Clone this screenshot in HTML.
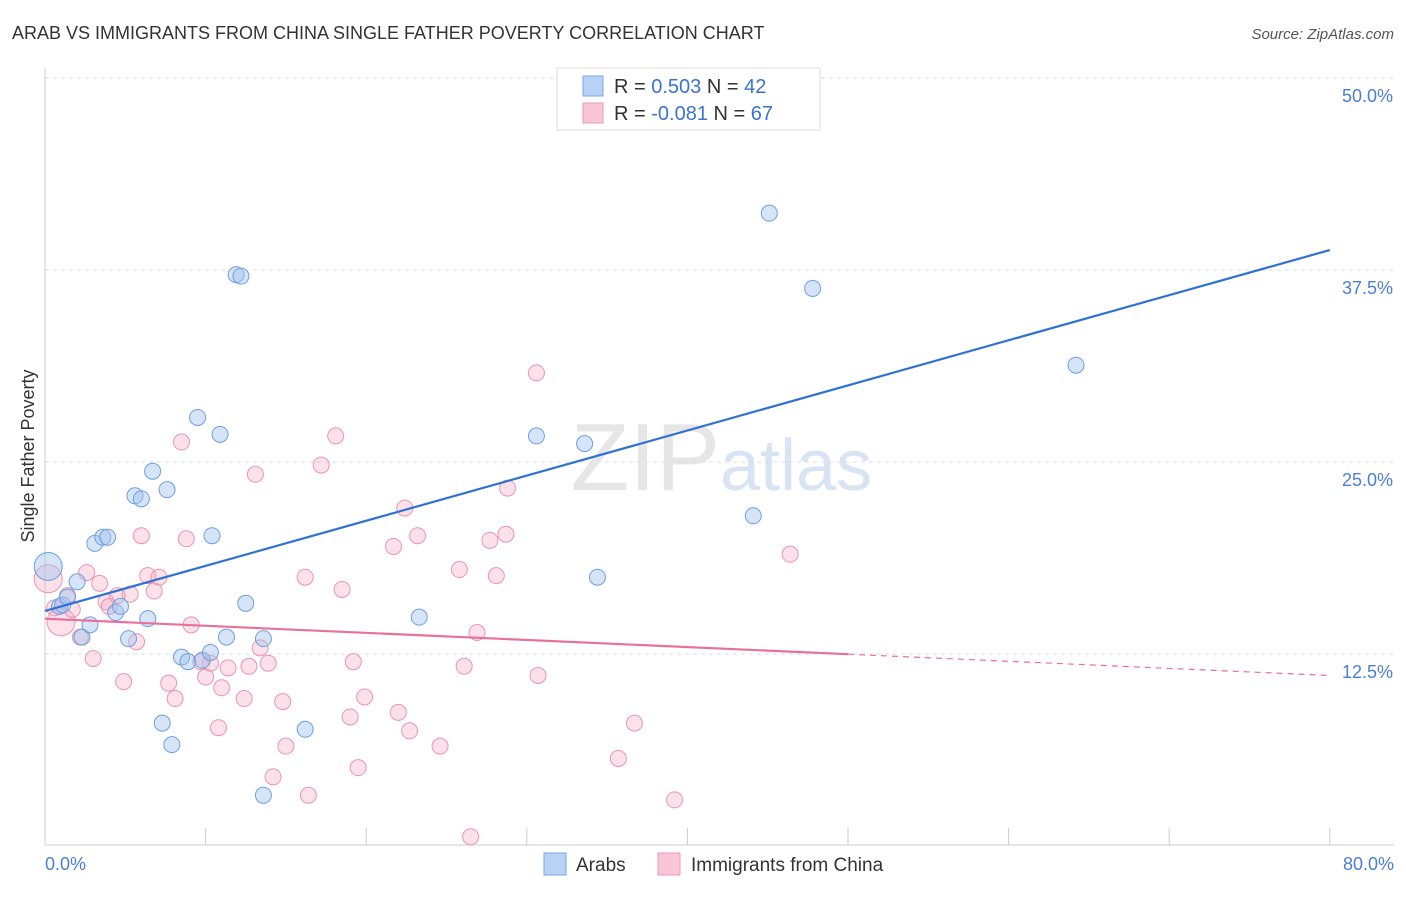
<!DOCTYPE html>
<html><head><meta charset="utf-8"><style>
body{margin:0;background:#fff;font-family:"Liberation Sans",sans-serif}
svg text{font-family:"Liberation Sans",sans-serif}
</style></head><body>
<svg width="1406" height="892" xmlns="http://www.w3.org/2000/svg">
<text x="12" y="39" font-size="18" fill="#333">ARAB VS IMMIGRANTS FROM CHINA SINGLE FATHER POVERTY CORRELATION CHART</text>
<text x="1394" y="39" font-size="15" fill="#555" font-style="italic" text-anchor="end">Source: ZipAtlas.com</text>
<text x="720" y="490" font-size="96" fill="#e6e6e6" text-anchor="end" font-family="Liberation Serif">ZIP</text>
<text x="720" y="490" font-size="72" fill="#d8e4f4">atlas</text>
<g id="grid"></g>
<g id="axes"></g>
<g id="pink"></g>
<g id="blue"></g>
<g id="lines"></g>
<text transform="translate(34,456) rotate(-90)" font-size="18" fill="#333" text-anchor="middle">Single Father Poverty</text>
<text x="45" y="870" font-size="18" fill="#4a7fd6">0.0%</text>
<text x="1394" y="870" font-size="18" fill="#4a7fd6" text-anchor="end">80.0%</text>
<g>
<rect x="557" y="68" width="263" height="62" fill="#fff" stroke="#ddd"/>
<rect x="583" y="76" width="20" height="20" fill="#b8d2f5" stroke="#7aa6e6"/>
<rect x="583" y="103" width="20" height="20" fill="#f9c6d6" stroke="#ec9ab5"/>
<text x="614" y="93" font-size="20" fill="#333">R =  <tspan fill="#3a73d4">0.503</tspan>   N = <tspan fill="#3a73d4">42</tspan></text>
<text x="614" y="120" font-size="20" fill="#333">R = <tspan fill="#3a73d4">-0.081</tspan>   N = <tspan fill="#3a73d4">67</tspan></text>
</g>
<g>
<rect x="544" y="853" width="22" height="22" fill="#b8d2f5" stroke="#7aa6e6"/>
<text x="576" y="871" font-size="19" fill="#333">Arabs</text>
<rect x="658" y="853" width="22" height="22" fill="#f9c6d6" stroke="#ec9ab5"/>
<text x="691" y="871" font-size="19" fill="#333">Immigrants from China</text>
</g>
</svg>
<script>
const yTicks=[12.5,25,37.5,50];
const yTickLabels=["12.5%","25.0%","37.5%","50.0%"];
const xTicks=[0,10,20,30,40,50,60,70,80];
const arabX=[0.2,0.9,1.1,1.4,2.0,2.3,2.8,3.1,3.6,3.9,4.4,4.7,5.2,5.6,6.0,6.4,6.7,7.3,7.6,7.9,8.5,8.9,9.5,9.8,10.3,10.4,10.9,11.3,11.9,12.2,12.5,13.6,13.6,16.2,23.3,30.6,33.6,34.4,44.1,45.1,47.8,64.2];
const arabY=[18.2,15.6,15.7,16.2,17.2,13.6,14.4,19.7,20.1,20.1,15.2,15.6,13.5,22.8,22.6,14.8,24.4,8.0,23.2,6.6,12.3,12.0,27.9,12.1,12.6,20.2,26.8,13.6,37.2,37.1,15.8,13.5,3.3,7.6,14.9,26.7,26.2,17.5,21.5,41.2,36.3,31.3];
const chinaX=[0.2,0.6,1.0,1.4,1.7,2.2,2.6,3.0,3.4,3.8,4.0,4.5,4.9,5.3,5.7,6.0,6.4,6.8,7.1,7.7,8.1,8.5,8.8,9.1,9.7,10.0,10.3,10.8,11.0,11.4,12.4,12.7,13.1,13.4,13.9,14.2,14.8,15.0,16.2,16.4,17.2,18.1,18.5,19.0,19.2,19.5,19.9,21.7,22.0,22.4,22.7,23.2,24.6,25.8,26.1,26.5,26.9,27.7,28.1,28.7,28.8,30.6,30.7,35.7,36.7,39.2,46.4];
const chinaY=[17.4,15.5,14.6,16.3,15.4,13.6,17.8,12.2,17.1,15.9,15.6,16.3,10.7,16.4,13.3,20.2,17.6,16.6,17.5,10.6,9.6,26.3,20.0,14.4,12.0,11.0,11.9,7.7,10.3,11.6,9.6,11.7,24.2,12.9,11.9,4.5,9.4,6.5,17.5,3.3,24.8,26.7,16.7,8.4,12.0,5.1,9.7,19.5,8.7,22.0,7.5,20.2,6.5,18.0,11.7,0.6,13.9,19.9,17.6,20.3,23.3,30.8,11.1,5.7,8.0,3.0,19.0];
const arabLarge=[0], chinaLarge=[0,2];
const arabTrend=[15.3,38.8], chinaTrend=[14.8,11.1];
const NS="http://www.w3.org/2000/svg";
const X=v=>45+v*16.06, Y=v=>846-v*15.36;
function mk(t,a,p){const e=document.createElementNS(NS,t);for(const k in a)e.setAttribute(k,a[k]);p.appendChild(e);return e;}
const grid=document.getElementById('grid'),axes=document.getElementById('axes');
yTicks.forEach((t,i)=>{
 const l=mk('line',{x1:45,x2:1394,y1:Y(t),y2:Y(t),stroke:'#ddd','stroke-dasharray':'4,4'},grid);
 
 
 const tx=mk('text',{x:1393,y:Y(t)+24,'font-size':18,fill:'#4a7fd6','text-anchor':'end'},grid);
 tx.textContent=yTickLabels[i];
 
 
});
let a=mk('line',{x1:45,x2:45,y1:68,y2:845,stroke:'#ccc'},axes);


a=mk('line',{x1:45,x2:1394,y1:845,y2:845,stroke:'#ccc'},axes);


xTicks.forEach(t=>{const e=mk('line',{x1:X(t),x2:X(t),y1:828,y2:845,stroke:'#ccc'},axes);
 
 });
function pts(xs,ys,big,g,fill,stroke,name){xs.forEach((v,i)=>{
 const c=mk('circle',{cx:X(v),cy:Y(ys[i]),r:big.includes(i)?14:8,fill:fill,stroke:stroke,'stroke-width':1},g);
 
 });}
pts(chinaX,chinaY,chinaLarge,document.getElementById('pink'),'rgba(246,170,196,0.35)','#e995b2','china-point');
pts(arabX,arabY,arabLarge,document.getElementById('blue'),'rgba(164,196,240,0.45)','#6f9fe0','arab-point');
const lg=document.getElementById('lines');
let l=mk('line',{x1:X(0),y1:Y(arabTrend[0]),x2:X(80),y2:Y(arabTrend[1]),stroke:'#2f72d6','stroke-width':2.2},lg);


const cm=v=>chinaTrend[0]+(chinaTrend[1]-chinaTrend[0])*v/80;
l=mk('line',{x1:X(0),y1:Y(cm(0)),x2:X(50),y2:Y(cm(50)),stroke:'#e8709a','stroke-width':2.2},lg);


l=mk('line',{x1:X(50),y1:Y(cm(50)),x2:X(80),y2:Y(cm(80)),stroke:'#e8709a','stroke-width':1.2,'stroke-dasharray':'6,5'},lg);


</script>
</body></html>
